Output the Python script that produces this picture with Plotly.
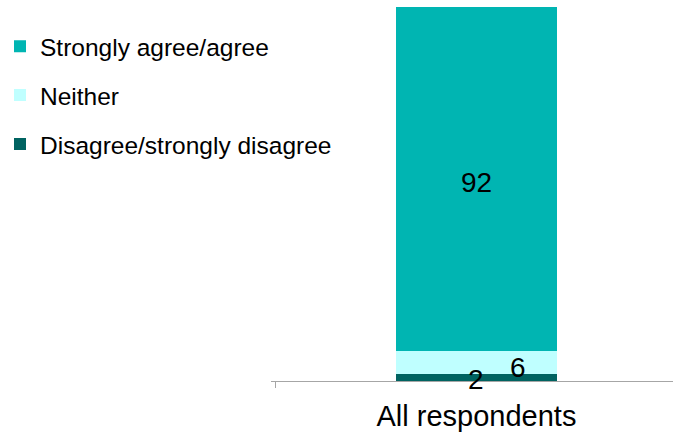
import plotly.graph_objects as go

# Survey response shares (%), single category
categories = ["All respondents"]
series_names = ["Disagree/strongly disagree", "Neither", "Strongly agree/agree"]
series_values = [[2], [6], [92]]
series_colors = ["#006361", "#BFFFFF", "#00B5B2"]

fig = go.Figure()
n = len(series_names)
for i, (name, vals, col) in enumerate(zip(series_names, series_values, series_colors)):
    fig.add_trace(go.Bar(
        x=categories, y=vals, name=name, marker=dict(color=col, line=dict(width=0)),
        width=0.4, legendgroup=name, legendrank=n - i,
    ))

# Value labels: the two small segments get nudged so they don't overlap
label_shifts = {"Disagree/strongly disagree": (0, -2), "Neither": (42, -5), "Strongly agree/agree": (0, -3)}
base = 0
for name, vals in zip(series_names, series_values):
    v = vals[0]
    xs, ys = label_shifts[name]
    fig.add_annotation(
        x=categories[0], y=base + v / 2, text=str(v), showarrow=False,
        xshift=xs, yshift=ys, font=dict(size=28, color="#000000"),
    )
    base += v

fig.update_layout(
    width=673, height=434,
    margin=dict(l=267, r=0, t=7, b=53),
    paper_bgcolor="white", plot_bgcolor="white",
    barmode="stack", bargap=0,
    font=dict(family="Liberation Sans, Arial, sans-serif", color="#000000"),
    showlegend=True,
    legend=dict(
        traceorder="grouped",
        x=-0.675, y=0.955, xanchor="left", yanchor="top",
        font=dict(size=24.5), tracegroupgap=14, itemwidth=30,
        bgcolor="rgba(0,0,0,0)",
    ),
    xaxis=dict(
        range=[-0.5111, 0.4889], showline=True, linecolor="#A6A6A6", linewidth=1,
        ticks="outside", tickson="boundaries", ticklen=6, tickcolor="#A6A6A6",
        tickfont=dict(size=29), ticklabelstandoff=9, showgrid=False, zeroline=False,
    ),
    yaxis=dict(range=[0, 100], visible=False, showgrid=False, zeroline=False),
)

fig.write_html("out.html")
